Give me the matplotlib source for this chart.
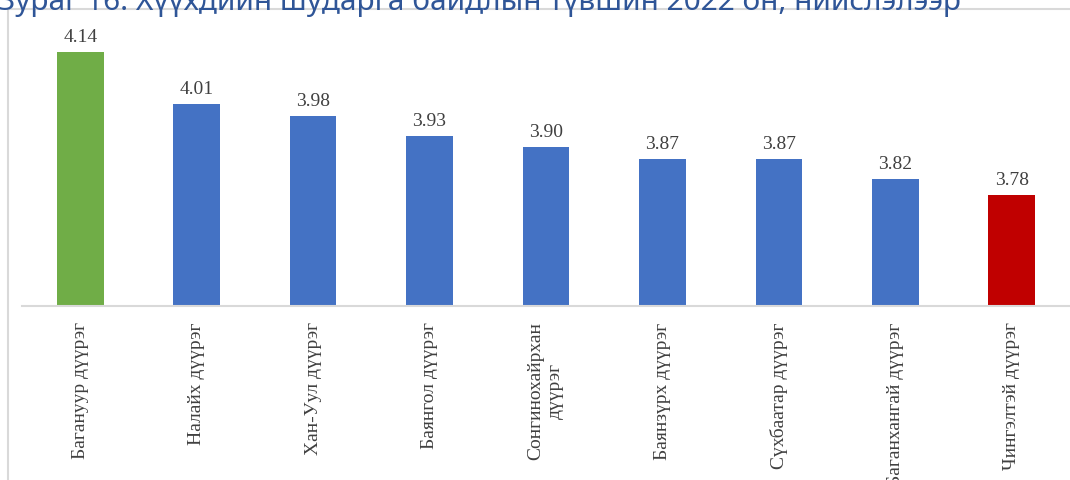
import matplotlib.pyplot as plt
from matplotlib.patches import Rectangle

districts = ['Багануур дүүрэг', 'Налайх дүүрэг', 'Хан-Уул дүүрэг', 'Баянгол дүүрэг',
             'Сонгинохайрхан\nдүүрэг', 'Баянзүрх дүүрэг', 'Сүхбаатар дүүрэг',
             'Баганхангай дүүрэг', 'Чингэлтэй дүүрэг']
scores = [4.14, 4.01, 3.98, 3.93, 3.90, 3.87, 3.87, 3.82, 3.78]
colors = ['#70AD47'] + ['#4472C4'] * 7 + ['#C00000']
title = 'Зураг 16. Хүүхдийн шударга байдлын түвшин 2022 он, нийслэлээр'

W, H = 1070, 481
fig = plt.figure(figsize=(W / 100, H / 100), dpi=100)

# chart frame (runs off the right and bottom edges)
fig.patches.append(Rectangle((8 / W, -0.1), 1.2, 1 - 10 / H + 0.1, transform=fig.transFigure,
                             fill=False, edgecolor='#D9D9D9', linewidth=1.5))

# title is clipped by the top edge, as in the source
fig.text(-2 / W, 1 - 10 / H, title, fontsize=21.5, family='Noto Sans', color='#2F5597',
         va='baseline', ha='left')

ax = fig.add_axes([22 / W, (H - 307) / H, 1 - 22 / W, (307 - 29.5) / H])
x = range(len(scores))
bars = ax.bar(x, scores, width=0.4, color=colors)
ax.set_ylim(3.5, 4.2)
ax.set_xlim(-0.5, len(scores) - 0.5)

for b, v in zip(bars, scores):
    ax.annotate(f'{v:.2f}', (b.get_x() + b.get_width() / 2, v), xytext=(0, 5),
                textcoords='offset points', ha='center', va='bottom',
                family='Liberation Serif', fontsize=14, color='#404040')

ax.set_xticks(list(x))
ax.set_xticklabels(districts, rotation=90, family='Liberation Serif', fontsize=14,
                   color='#404040', va='top', ha='center')
ax.tick_params(axis='x', length=0, pad=11)
ax.set_yticks([])
for s in ['top', 'right', 'left']:
    ax.spines[s].set_visible(False)
ax.spines['bottom'].set_color('#D9D9D9')
ax.spines['bottom'].set_linewidth(1.5)
ax.patch.set_alpha(0)

fig.savefig('out.png', dpi=100)
